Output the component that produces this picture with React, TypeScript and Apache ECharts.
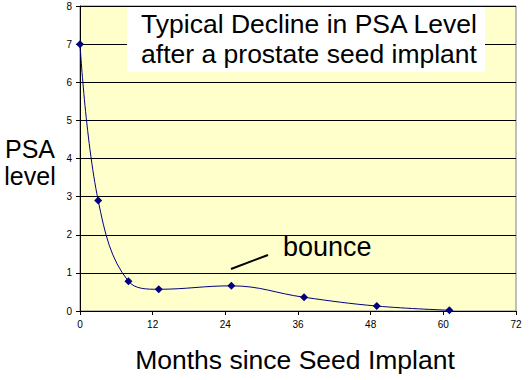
import React, { useEffect, useRef } from "react";
import * as echarts from "echarts";

const months = [0, 3, 8, 13, 25, 37, 49, 61];
const psa = [7, 2.9, 0.78, 0.57, 0.66, 0.36, 0.13, 0.02];
const xTicks = [0, 12, 24, 36, 48, 60, 72];
const titleLines = ["Typical Decline in PSA Level", "after a prostate seed implant"];
const yName = ["PSA", "level"];
const xName = "Months since Seed Implant";
const note = "bounce";

export default function App() {
  const ref = useRef<HTMLDivElement>(null);
  useEffect(() => {
    const chart = echarts.init(ref.current!, null, { renderer: "svg" });
    const font = "Arial, 'Liberation Sans', sans-serif";
    chart.setOption({
      animation: false,
      backgroundColor: "#ffffff",
      grid: {
        left: 80, right: 15, top: 6, bottom: 69,
        show: true, backgroundColor: "#ffffcc", borderColor: "#808080", borderWidth: 1,
      },
      xAxis: {
        type: "value", min: xTicks[0], max: xTicks[xTicks.length - 1], interval: 12,
        axisLine: { show: true, lineStyle: { color: "#000", width: 1 } },
        axisTick: { show: true, length: 4, lineStyle: { color: "#000" } },
        axisLabel: { color: "#000", fontSize: 10, fontFamily: font, margin: 8 },
        splitLine: { show: false },
      },
      yAxis: {
        type: "value", min: 0, max: 8, interval: 1,
        axisLine: { show: true, lineStyle: { color: "#000", width: 1 } },
        axisTick: { show: true, length: 4, lineStyle: { color: "#000" } },
        axisLabel: { color: "#000", fontSize: 10, fontFamily: font, margin: 8 },
        splitLine: { show: true, lineStyle: { color: "#000", width: 1 } },
      },
      series: [
        {
          type: "line",
          data: months.map((m, i) => [m, psa[i]]),
          smooth: 0.4,
          symbol: "diamond",
          symbolSize: 8,
          itemStyle: { color: "#000080" },
          lineStyle: { color: "#000080", width: 1 },
        },
      ],
      graphic: [
        { type: "rect", shape: { x: 127, y: 7, width: 358, height: 65 }, style: { fill: "#ffffff" }, z: 10 },
        {
          type: "text", x: 309, y: 9, z: 11,
          style: { text: titleLines.join("\n"), fill: "#000", font: `26.5px ${font}`, align: "center", lineHeight: 30 },
        },
        {
          type: "text", x: 30, y: 135, z: 11,
          style: { text: yName.join("\n"), fill: "#000", font: `25px ${font}`, align: "center", lineHeight: 27 },
        },
        {
          type: "text", x: 295, y: 346, z: 11,
          style: { text: xName, fill: "#000", font: `26.5px ${font}`, align: "center" },
        },
        {
          type: "text", x: 283, y: 233, z: 11,
          style: { text: note, fill: "#000", font: `27px ${font}` },
        },
        {
          type: "line", z: 11,
          shape: { x1: 231, y1: 269, x2: 268, y2: 255 },
          style: { stroke: "#000", lineWidth: 2 },
        },
      ],
    });
    return () => chart.dispose();
  }, []);
  return <div ref={ref} style={{ position: "fixed", left: 0, top: 0, width: 531, height: 380 }} />;
}
